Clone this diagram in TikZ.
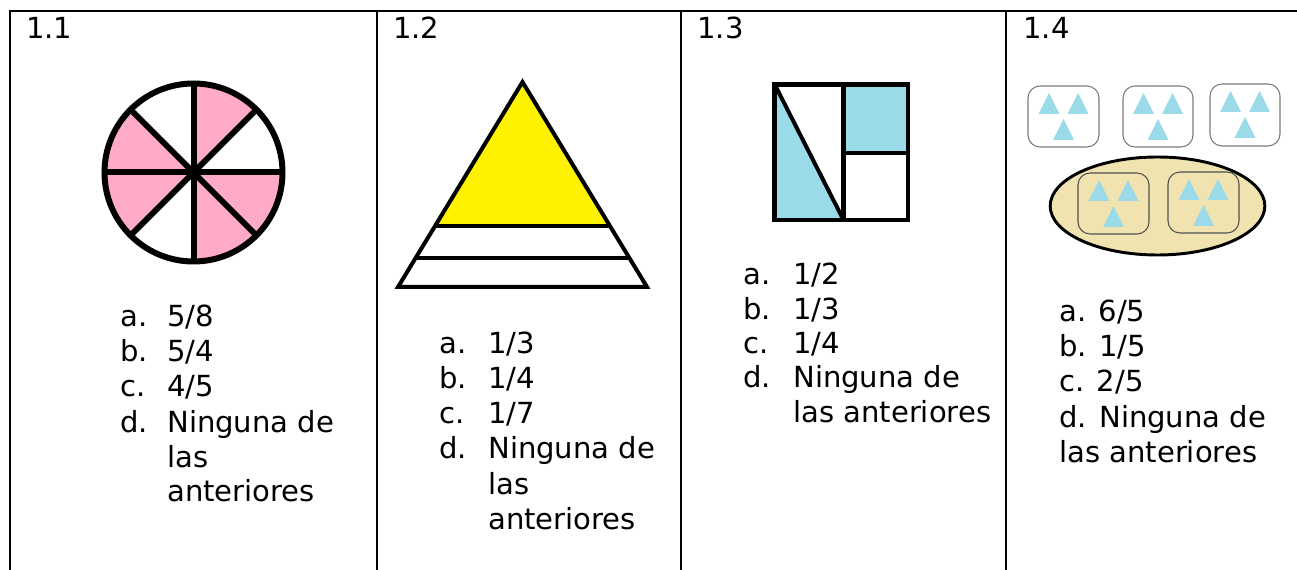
\documentclass[tikz,border=0pt]{standalone}
\usepackage{fontspec}
\setmainfont{DejaVu Sans}
\usetikzlibrary{shapes.geometric,calc}
\definecolor{pinkf}{HTML}{FFAAC8}
\definecolor{yel}{HTML}{FFF200}
\definecolor{blu}{HTML}{9BDAE9}
\definecolor{beige}{HTML}{F0E3B0}
\definecolor{boxgray}{HTML}{7A7A7A}
\definecolor{boxdark}{HTML}{505050}
\begin{document}
\begin{tikzpicture}[x=0.75pt,y=-0.75pt,
  txt/.style={anchor=base west,inner sep=0pt,font=\fontsize{21.8}{26}\selectfont},
  frame/.style={line width=1.9pt},
  tri/.style={fill=blu},
  sbox/.style={draw=boxgray,line width=0.8pt,fill=white,rounded corners=9pt},
  ibox/.style={draw=boxdark,line width=0.8pt,rounded corners=9pt},
  tri3/.pic={
    \fill[tri] (-14.5,7) -- (-4,28) -- (-25,28) -- cycle;
    \fill[tri] (14.5,7) -- (25,28) -- (4,28) -- cycle;
    \fill[tri] (0,33) -- (10.5,54) -- (-10.5,54) -- cycle;
  }]
\fill[white] (0,0) rectangle (1297,570);
\useasboundingbox (0,0) rectangle (1297,570);

% frame
\draw[frame] (10,570) -- (10,11) -- (1297,11);
\draw[frame] (377,11) -- (377,570);
\draw[frame] (681,11) -- (681,570);
\draw[frame] (1006,11) -- (1006,570);

% titles
\node[txt] (t1) at (26,39) {1.1};
\node[txt] (t2) at (393,39) {1.2};
\node[txt] (t3) at (697,39) {1.3};
\node[txt] (t4) at (1023,39) {1.4};

% 1.1 circle
\coordinate (c1) at (193.5,172.5);
\foreach \a in {0,45,135,180,270}{
  \fill[pinkf] (c1) -- ++(\a:89) arc[start angle=\a, end angle=\a+45, radius=89] -- cycle;
}
\draw[line width=4.5pt] (c1) circle[radius=89];
\foreach \a in {0,45,90,135}{
  \draw[line width=4.5pt] ($(c1)+(\a:89)$) -- ($(c1)+(\a+180:89)$);
}

% 1.2 triangle
\coordinate (ap) at (522.5,82);
\coordinate (bl) at (398,287);
\coordinate (br) at (647,287);
\coordinate (m1l) at (435,226);
\coordinate (m1r) at (610,226);
\coordinate (m2l) at (415.6,258);
\coordinate (m2r) at (629.4,258);
\fill[yel] (ap) -- (m1r) -- (m1l) -- cycle;
\draw[line width=3pt] (ap) -- (br) -- (bl) -- cycle;
\draw[line width=3pt] (m1l) -- (m1r);
\draw[line width=3pt] (m2l) -- (m2r);

% 1.3 square
\coordinate (sq1) at (774.5,84.5);
\coordinate (sq2) at (908,220);
\coordinate (dvt) at (843.5,84.5);
\coordinate (dvb) at (843.5,220);
\coordinate (hl) at (843.5,153);
\coordinate (hr) at (908,153);
\fill[blu] (sq1) -- (774.5,220) -- (dvb) -- cycle;
\fill[blu] (dvt) rectangle (hr);
\draw[line width=3.6pt] (sq1) rectangle (sq2);
\draw[line width=3.6pt] (dvt) -- (dvb);
\draw[line width=3.6pt] (hl) -- (hr);
\draw[line width=3pt] (776,87) -- (dvb);

% 1.4 groups
\draw[sbox] (1028,86) rectangle (1099,147);
\draw[sbox] (1123,86) rectangle (1193,147);
\draw[sbox] (1210,84) rectangle (1280,146);
\pic at (1063.5,86) {tri3};
\pic at (1158,86) {tri3};
\pic at (1245,84) {tri3};
\node[ellipse,draw,line width=2.2pt,fill=beige,minimum width=161pt,minimum height=73.5pt,inner sep=0pt] (el) at (1157.5,206) {};
\draw[ibox] (1078,173) rectangle (1149,234);
\draw[ibox] (1168,172) rectangle (1239,233);
\pic at (1113.5,173) {tri3};
\pic at (1203.5,172) {tri3};

% lists 1.1
\node[txt] (a1l) at (120,327) {a.};
\node[txt] (a1t) at (167,327) {5/8};
\node[txt] (b1l) at (120,362) {b.};
\node[txt] (b1t) at (167,362) {5/4};
\node[txt] (c1l) at (120,397) {c.};
\node[txt] (c1t) at (167,397) {4/5};
\node[txt] (d1l) at (120,432) {d.};
\node[txt] (d1t) at (167,432) {Ninguna de};
\node[txt] (e1t) at (167,467) {las};
\node[txt] (f1t) at (167,502) {anteriores};

% lists 1.2
\node[txt] (a2l) at (439,354) {a.};
\node[txt] (a2t) at (488,354) {1/3};
\node[txt] (b2l) at (439,389) {b.};
\node[txt] (b2t) at (488,389) {1/4};
\node[txt] (c2l) at (439,424) {c.};
\node[txt] (c2t) at (488,424) {1/7};
\node[txt] (d2l) at (439,459) {d.};
\node[txt] (d2t) at (488,459) {Ninguna de};
\node[txt] (e2t) at (488,494) {las};
\node[txt] (f2t) at (488,529) {anteriores};

% lists 1.3
\node[txt] (a3l) at (743,285) {a.};
\node[txt] (a3t) at (793,285) {1/2};
\node[txt] (b3l) at (743,319.3) {b.};
\node[txt] (b3t) at (793,319.3) {1/3};
\node[txt] (c3l) at (743,353.6) {c.};
\node[txt] (c3t) at (793,353.6) {1/4};
\node[txt] (d3l) at (743,388) {d.};
\node[txt] (d3t) at (793,388) {Ninguna de};
\node[txt] (e3t) at (793,422) {las anteriores};

% lists 1.4
\node[txt] (a4) at (1059,322) {a. 6/5};
\node[txt] (b4) at (1059,357) {b. 1/5};
\node[txt] (c4) at (1059,392) {c. 2/5};
\node[txt] (d4) at (1059,427) {d. Ninguna de};
\node[txt] (e4) at (1059,462) {las anteriores};
\end{tikzpicture}
\end{document}
